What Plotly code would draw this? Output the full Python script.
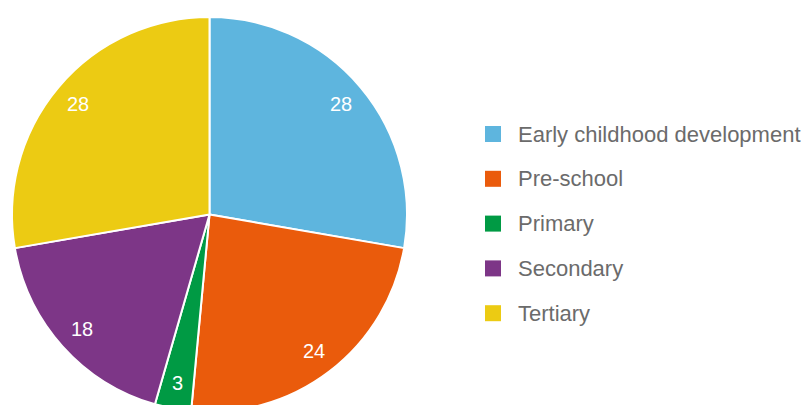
import math
import plotly.graph_objects as go

# Share of funding by education stage
categories = ["Early childhood development", "Pre-school", "Primary", "Secondary", "Tertiary"]
values = [28, 24, 3, 18, 28]
colors = ["#5EB5DE", "#EA5B0C", "#009A44", "#7D3687", "#ECCB13"]

W, H = 801, 430  # canvas taller than the window so the pie runs off the bottom edge
CX, CY, R = 209.5, 214.5, 197.5  # pie centre and radius in pixels
LABEL_R = 0.87  # value labels sit near the rim

fig = go.Figure(
    go.Pie(
        labels=categories,
        values=values,
        sort=False,
        direction="clockwise",
        rotation=0,
        marker=dict(colors=colors, line=dict(color="white", width=2)),
        textinfo="none",
        hoverinfo="label+value",
        domain=dict(x=[(CX - R) / W, (CX + R) / W], y=[1 - (CY + R) / H, 1 - (CY - R) / H]),
        showlegend=False,
    )
)

annotations, shapes = [], []

# Value labels placed at each slice's mid-angle (clockwise from 12 o'clock)
total = sum(values)
acc = 0.0
for v in values:
    mid = (acc + v / 2) / total * 2 * math.pi
    acc += v
    px = CX + LABEL_R * R * math.sin(mid)
    py = CY - LABEL_R * R * math.cos(mid)
    annotations.append(dict(
        text=str(v), xref="paper", yref="paper",
        x=px / W, y=1 - py / H, xanchor="center", yanchor="middle",
        showarrow=False,
        font=dict(family="Liberation Sans, Arial, sans-serif", size=20, color="white"),
    ))

# Hand-built legend: square swatch + label per category
top, step, sw = 134, 44.8, 16
for i, (name, col) in enumerate(zip(categories, colors)):
    yc = top + i * step
    shapes.append(dict(
        type="rect", xref="paper", yref="paper",
        x0=485 / W, x1=(485 + sw) / W,
        y0=1 - (yc + sw / 2) / H, y1=1 - (yc - sw / 2) / H,
        fillcolor=col, line=dict(width=0),
    ))
    annotations.append(dict(
        text=name, xref="paper", yref="paper",
        x=516 / W, y=1 - yc / H, xanchor="left", yanchor="middle",
        showarrow=False,
        font=dict(family="Liberation Sans, Arial, sans-serif", size=22, color="#6b6b6b"),
    ))

fig.update_layout(
    width=W, height=H,
    margin=dict(l=0, r=0, t=0, b=0),
    paper_bgcolor="white",
    plot_bgcolor="white",
    shapes=shapes,
    annotations=annotations,
)

fig.write_html(
    "out.html",
    post_script="document.documentElement.style.overflow='hidden';document.body.style.overflow='hidden';",
)
